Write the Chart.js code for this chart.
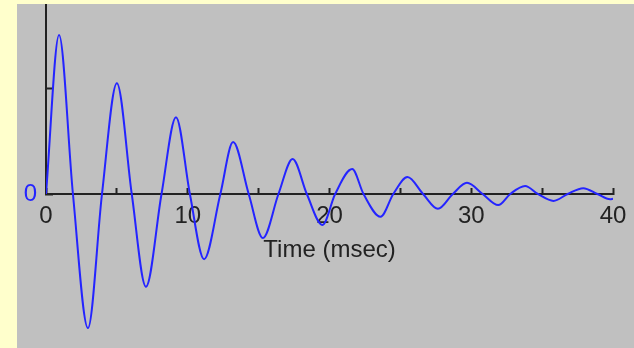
<!DOCTYPE html>
<html>
<head>
<meta charset="utf-8">
<script src="https://cdn.jsdelivr.net/npm/chart.js@4"></script>
<style>
  body { margin: 0; background: #ffffcc; }
  #panel { position: absolute; left: 17px; top: 4px; width: 617px; height: 344px; background: #c0c0c0; }
</style>
</head>
<body>
<div id="panel"><canvas id="myChart" width="617" height="344"></canvas></div>
<script>
// time axis (msec) and response at peaks, troughs and zero crossings
const timeMs = [0, 0.92, 1.9, 2.96, 3.95, 5.0, 6.05, 7.05, 8.15, 9.17, 10.15, 11.15, 12.3, 13.2,
  14.3, 15.3, 16.4, 17.4, 18.4, 19.5, 20.4, 21.6, 22.4, 23.6, 24.5, 25.5, 26.6, 27.65, 28.7,
  29.7, 30.8, 31.9, 32.75, 33.8, 34.7, 35.8, 36.8, 37.9, 38.9, 39.8, 40];
const response = [0, 3.0, 0, -2.53, 0, 2.09, 0, -1.75, 0, 1.45, 0, -1.23, 0, 0.98,
  0, -0.83, 0, 0.66, 0, -0.585, 0, 0.47, 0, -0.43, 0, 0.32, 0, -0.28, 0,
  0.21, 0, -0.21, 0, 0.15, 0, -0.13, 0, 0.11, 0, -0.1, -0.09];
const xTickStep = 5;
const xLabelEvery = 10;
const yMin = -2.906, yMax = 3.585;

const ink = '#222';
const blue = '#2424ff';
const font = { family: 'Liberation Sans, Arial, sans-serif', size: 24 };

function noPad(s) { s.paddingTop = 0; s.paddingBottom = 0; s.paddingLeft = 0; s.paddingRight = 0; }
function leftBox(s) { s.width = 29; noPad(s); }

const axisTitle = {
  id: 'axisTitle',
  afterDraw(chart) {
    const ctx = chart.ctx;
    ctx.save();
    ctx.font = '24px ' + font.family;
    ctx.fillStyle = ink;
    ctx.textAlign = 'center';
    ctx.textBaseline = 'alphabetic';
    ctx.fillText('Time (msec)', chart.scales.x.getPixelForValue(20), chart.scales.y.getPixelForValue(0) + 63);
    ctx.restore();
  }
};

const data = {
  datasets: [{
    label: 'response',
    data: timeMs.map((t, i) => ({ x: t, y: response[i] })),
    borderColor: blue,
    borderWidth: 2,
    pointRadius: 0,
    cubicInterpolationMode: 'monotone',
    yAxisID: 'y',
  }]
};

const config = {
  type: 'line',
  data: data,
  options: {
    responsive: false,
    animation: false,
    layout: { padding: { left: 0, top: 0, right: 21, bottom: 0 } },
    plugins: { legend: { display: false }, tooltip: { enabled: false } },
    scales: {
      x: {
        type: 'linear',
        min: 0, max: 40,
        position: { y: 0 },
        afterFit(s) { s.height = 0; noPad(s); },
        border: { display: true, color: ink, width: 2 },
        grid: { drawOnChartArea: false, tickLength: -7, tickWidth: 2, tickColor: ink },
        ticks: {
          stepSize: xTickStep, padding: 15, color: ink, font: font, maxRotation: 0, autoSkip: false,
          callback: v => (v % xLabelEvery === 0 ? String(v) : '')
        }
      },
      y: {
        type: 'linear',
        display: false,
        min: yMin, max: yMax,
        afterFit: noPad,
      },
      yBot: {
        type: 'linear',
        position: 'left',
        stack: 'v', stackWeight: 154,
        min: yMin, max: 0,
        afterFit: leftBox,
        border: { display: false },
        grid: { display: false },
        ticks: { display: false }
      },
      yTop: {
        type: 'linear',
        position: 'left',
        stack: 'v', stackWeight: 190,
        min: 0, max: yMax,
        afterFit: leftBox,
        border: { display: true, color: ink, width: 2 },
        grid: { drawOnChartArea: false, tickLength: -7, tickWidth: 2, tickColor: ink },
        ticks: {
          stepSize: 1, includeBounds: false, padding: 16, color: blue, font: font,
          callback: v => (v === 0 ? '0' : '')
        }
      }
    }
  },
  plugins: [axisTitle]
};

const myChart = new Chart(document.getElementById('myChart'), config);
</script>
</body>
</html>
